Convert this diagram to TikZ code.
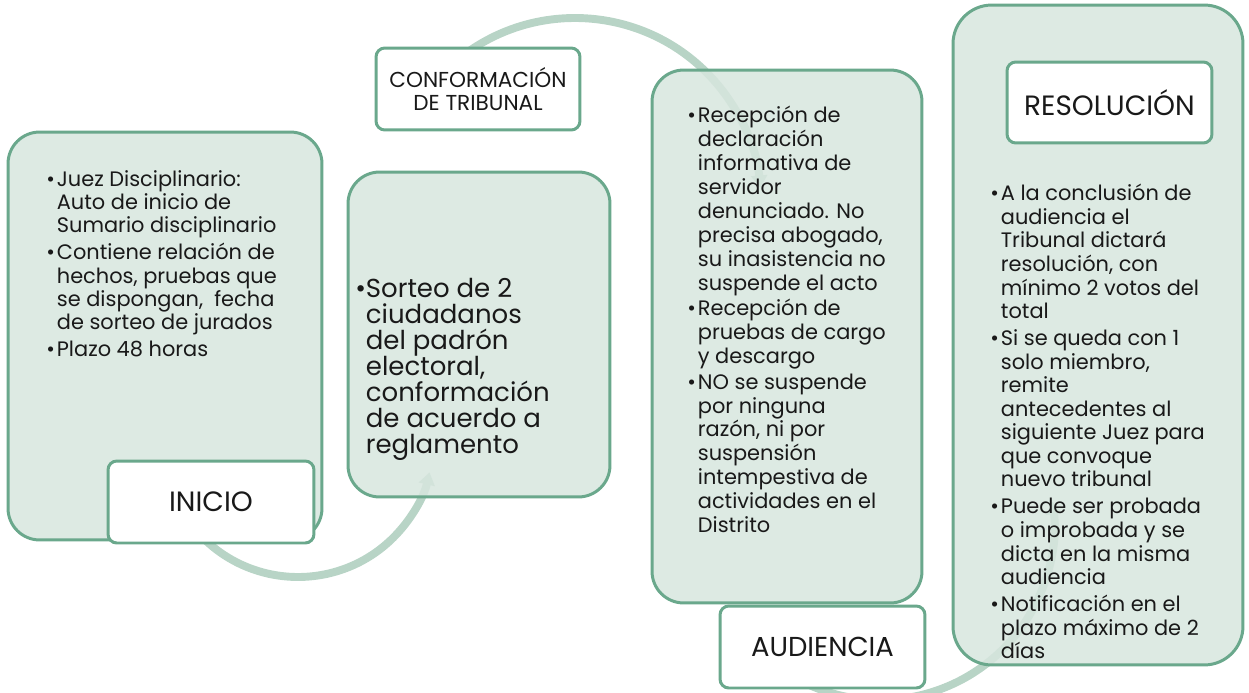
\documentclass[tikz,border=0pt]{standalone}
\usepackage{fontspec}
\setmainfont{Poppins}
\usetikzlibrary{arrows.meta}

\definecolor{stagefill}{RGB}{215,230,222}
\definecolor{stageline}{RGB}{106,168,140}
\definecolor{arcgreen}{RGB}{184,212,198}
\definecolor{textgray}{RGB}{25,25,25}

\newcommand{\bul}{\makebox[6pt][l]{\textbullet}}
\newcommand{\ind}{\hspace*{6pt}}

\tikzset{
  stagebox/.style={draw=stageline,line width=1.7pt,fill=stagefill,fill opacity=0.85,rounded corners=18pt,inner sep=0pt},
  stagelabel/.style={draw=stageline,line width=1.7pt,fill=white,rounded corners=5pt,inner sep=0pt,align=center,text=textgray},
  stagetext/.style={anchor=north west,align=left,inner sep=0pt,text=textgray,font=\fontsize{11.9pt}{13.3pt}\selectfont},
  flowarc/.style={draw=arcgreen,line width=4.5pt,-{Triangle[width=9pt,length=7pt]}}
}

\begin{document}
\begin{tikzpicture}[x=0.02cm,y=-0.02cm]
        \useasboundingbox (0,0) rectangle (1249,693);

        % arcs behind the boxes
        \coordinate (arcA) at (298,442);
        \coordinate (arcB) at (575,204);
        \coordinate (arcC) at (880,526);
        \draw[flowarc] (arcA) ++(135:135) arc[start angle=135,end angle=13,radius=135];
        \draw[flowarc] (arcB) ++(-130:186) arc[start angle=-130,end angle=-5,radius=186];
        \draw[flowarc] (arcC) ++(120:174) arc[start angle=120,end angle=-8,radius=174];

        \node[stagebox,minimum width=6.28cm,minimum height=8.16cm] (inicioBox) at (165,336) {};
        \node[stagebox,minimum width=5.24cm,minimum height=6.5cm] (sorteoBox) at (479,334.5) {};
        \node[stagebox,minimum width=5.4cm,minimum height=10.66cm] (audienciaBox) at (787,336.5) {};
        \node[stagebox,rounded corners=22pt,minimum width=5.8cm,minimum height=13.2cm] (resolucionBox) at (1098,335) {};

        \node[stagelabel,minimum width=4.12cm,minimum height=1.64cm,font=\fontsize{15.9pt}{18pt}\selectfont] (inicioLabel) at (211,502) {INICIO};
        \node[stagelabel,minimum width=4.08cm,minimum height=1.64cm,font=\fontsize{12.3pt}{13pt}\selectfont] (conformacionLabel) at (478,89) {CONFORMACIÓN\\DE TRIBUNAL};
        \node[stagelabel,minimum width=4.1cm,minimum height=1.64cm,font=\fontsize{15.6pt}{17pt}\selectfont] (audienciaLabel) at (822.5,647) {AUDIENCIA};
        \node[stagelabel,minimum width=4.1cm,minimum height=1.62cm,font=\fontsize{15.9pt}{18pt}\selectfont] (resolucionLabel) at (1109.5,102.5) {RESOLUCIÓN};

        \node[stagetext] (inicioText) at (46,170) {\bul Juez Disciplinario:\\
            \ind Auto de inicio de\\
            \ind Sumario disciplinario\\[2pt]
            \bul Contiene relación de\\
            \ind hechos, pruebas que\\
            \ind se dispongan,\ \ fecha\\
            \ind de sorteo de jurados\\[2pt]
            \bul Plazo 48 horas};

        \node[stagetext,font=\fontsize{14.8pt}{14.8pt}\selectfont] (sorteoText) at (355,278) {\bul Sorteo de 2\\
            \ind ciudadanos\\
            \ind del padrón\\
            \ind electoral,\\
            \ind conformación\\
            \ind de acuerdo a\\
            \ind reglamento};

        \node[stagetext,font=\fontsize{11.9pt}{13.6pt}\selectfont] (audienciaText) at (687,106) {\bul Recepción de\\
            \ind declaración\\
            \ind informativa de\\
            \ind servidor\\
            \ind denunciado. No\\
            \ind precisa abogado,\\
            \ind su inasistencia no\\
            \ind suspende el acto\\[1pt]
            \bul Recepción de\\
            \ind pruebas de cargo\\
            \ind y descargo\\[1pt]
            \bul NO se suspende\\
            \ind por ninguna\\
            \ind razón, ni por\\
            \ind suspensión\\
            \ind intempestiva de\\
            \ind actividades en el\\
            \ind Distrito};

        \node[stagetext,font=\fontsize{11.9pt}{13.4pt}\selectfont] (resolucionText) at (990,184) {\bul A la conclusión de\\
            \ind audiencia el\\
            \ind Tribunal dictará\\
            \ind resolución, con\\
            \ind mínimo 2 votos del\\
            \ind total\\[2pt]
            \bul Si se queda con 1\\
            \ind solo miembro,\\
            \ind remite\\
            \ind antecedentes al\\
            \ind siguiente Juez para\\
            \ind que convoque\\
            \ind nuevo tribunal\\[2pt]
            \bul Puede ser probada\\
            \ind o improbada y se\\
            \ind dicta en la misma\\
            \ind audiencia\\[2pt]
            \bul Notificación en el\\
            \ind plazo máximo de 2\\
            \ind días};
    \end{tikzpicture}
\end{document}
